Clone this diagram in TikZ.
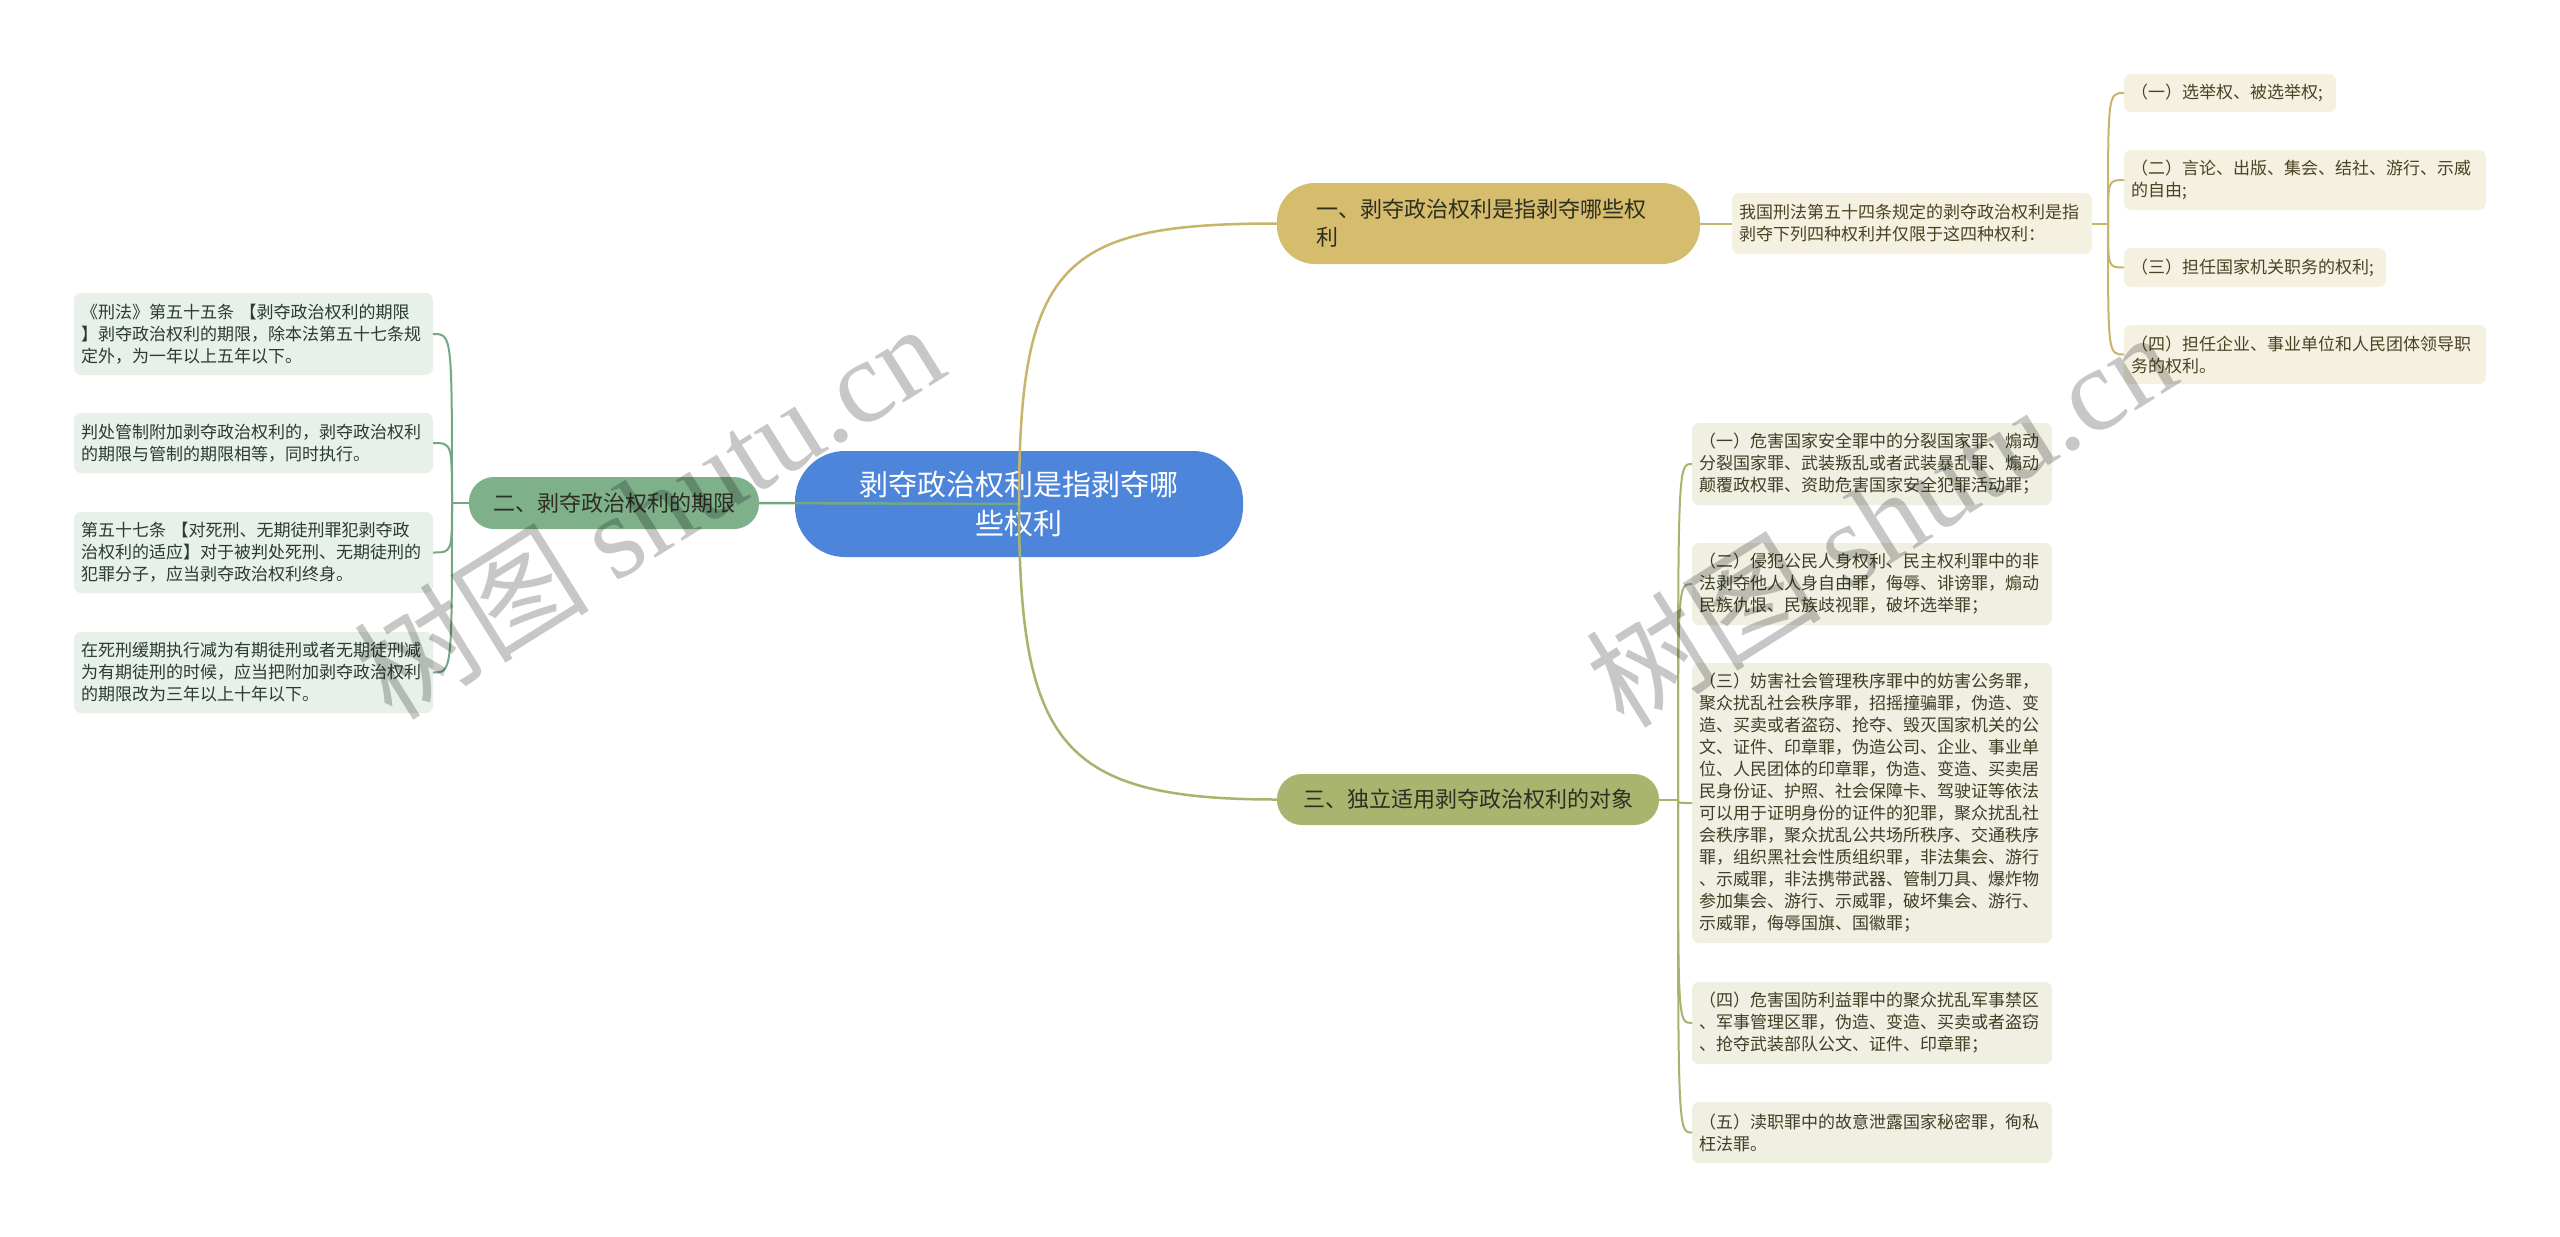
\documentclass[tikz,border=0pt]{standalone}
\usepackage{fontspec}
\setmainfont{Noto Sans CJK SC}
\newfontfamily\wmserif{Liberation Serif}
\definecolor{cRoot}{HTML}{4C85D9}
\definecolor{cGold}{HTML}{D5BD6D}
\definecolor{cGreen}{HTML}{7EB08A}
\definecolor{cOlive}{HTML}{A9B46F}
\definecolor{cLeafL}{HTML}{E7F0E9}
\definecolor{cLeafG}{HTML}{F5F1E1}
\definecolor{cLeafO}{HTML}{EFEFE2}
\definecolor{tLeafL}{HTML}{2C3B2F}
\definecolor{tLeafG}{HTML}{4B4224}
\definecolor{tLeafO}{HTML}{3D4024}
\definecolor{tMain}{HTML}{2E2E22}
\definecolor{lnGoldC}{HTML}{C9B46B}
\definecolor{lnGreenC}{HTML}{74A883}
\definecolor{lnOliveC}{HTML}{A8B36D}
\newcommand{\fsleaf}{\fontsize{17}{22}\selectfont}
\newcommand{\fsmainb}{\fontsize{22}{28}\selectfont}
\newcommand{\fsroot}{\fontsize{29}{39}\selectfont}
\begin{document}
\begin{tikzpicture}[x=1pt,y=-1pt,
  every node/.style={inner sep=0pt, outer sep=0pt},
  rootbox/.style={fill=cRoot, text=white, rounded corners=50pt, font=\fsroot, align=center,
    minimum width=448pt, minimum height=106pt, text width=420pt},
  mainbox/.style={font=\fsmainb, text=tMain},
  leafbase/.style={rounded corners=7pt, font=\fsleaf, align=left, inner xsep=7pt, inner ysep=0pt},
  leafL/.style={leafbase, fill=cLeafL, text=tLeafL},
  leafG/.style={leafbase, fill=cLeafG, text=tLeafG},
  leafO/.style={leafbase, fill=cLeafO, text=tLeafO},
  lnmain/.style={line width=2.5pt},
  lnbr/.style={line width=2pt},
  wm/.style={text=black, opacity=0.22, rotate=32, font=\fontsize{118}{118}\selectfont}
]
\useasboundingbox (0,0) rectangle (2560,1237);
\fill[white] (0,0) rectangle (2560,1237);

% root
\node[rootbox] (root) at (1019,504) {剥夺政治权利是指剥夺哪\\些权利};

% main branches
\node[mainbox, fill=cGold, rounded corners=38pt, minimum width=423pt, minimum height=81pt,
  text width=345pt, inner xsep=39pt, align=left] (b1) at (1488.5,223.5)
  {一、剥夺政治权利是指剥夺哪些权\\利};
\node[mainbox, fill=cGreen, rounded corners=25pt, minimum width=290pt, minimum height=52pt,
  align=center] (b2) at (614,503) {二、剥夺政治权利的期限};
\node[mainbox, fill=cOlive, rounded corners=25pt, minimum width=382pt, minimum height=51pt,
  align=center] (b3) at (1468,799.5) {三、独立适用剥夺政治权利的对象};

% branch 1 subnode
\node[leafG, minimum width=360pt, minimum height=61pt, text width=346pt] (b1c) at (1912,223.5)
  {我国刑法第五十四条规定的剥夺政治权利是指\\剥夺下列四种权利并仅限于这四种权利：};

% branch 1 leaves
\node[leafG, minimum width=212pt, minimum height=38pt, text width=198pt] (g1) at (2230,93)
  {（一）选举权、被选举权;};
\node[leafG, minimum width=362pt, minimum height=60pt, text width=348pt] (g2) at (2305,180)
  {（二）言论、出版、集会、结社、游行、示威\\的自由;};
\node[leafG, minimum width=262pt, minimum height=39pt, text width=248pt] (g3) at (2255,267.5)
  {（三）担任国家机关职务的权利;};
\node[leafG, minimum width=362pt, minimum height=59pt, text width=348pt] (g4) at (2305,354.5)
  {（四）担任企业、事业单位和人民团体领导职\\务的权利。};

% branch 2 leaves
\node[leafL, minimum width=359pt, minimum height=82pt, text width=345pt] (l1) at (253.5,334)
  {《刑法》第五十五条 【剥夺政治权利的期限\\】剥夺政治权利的期限，除本法第五十七条规\\定外，为一年以上五年以下。};
\node[leafL, minimum width=359pt, minimum height=60pt, text width=345pt] (l2) at (253.5,443)
  {判处管制附加剥夺政治权利的，剥夺政治权利\\的期限与管制的期限相等，同时执行。};
\node[leafL, minimum width=359pt, minimum height=81pt, text width=345pt] (l3) at (253.5,552.5)
  {第五十七条 【对死刑、无期徒刑罪犯剥夺政\\治权利的适应】对于被判处死刑、无期徒刑的\\犯罪分子，应当剥夺政治权利终身。};
\node[leafL, minimum width=359pt, minimum height=81pt, text width=345pt] (l4) at (253.5,672.5)
  {在死刑缓期执行减为有期徒刑或者无期徒刑减\\为有期徒刑的时候，应当把附加剥夺政治权利\\的期限改为三年以上十年以下。};

% branch 3 leaves
\node[leafO, minimum width=360pt, minimum height=82pt, text width=346pt] (o1) at (1872,464)
  {（一）危害国家安全罪中的分裂国家罪、煽动\\分裂国家罪、武装叛乱或者武装暴乱罪、煽动\\颠覆政权罪、资助危害国家安全犯罪活动罪；};
\node[leafO, minimum width=360pt, minimum height=82pt, text width=346pt] (o2) at (1872,584)
  {（二）侵犯公民人身权利、民主权利罪中的非\\法剥夺他人人身自由罪，侮辱、诽谤罪，煽动\\民族仇恨、民族歧视罪，破坏选举罪；};
\node[leafO, minimum width=360pt, minimum height=280pt, text width=346pt] (o3) at (1872,803)
  {（三）妨害社会管理秩序罪中的妨害公务罪，\\聚众扰乱社会秩序罪，招摇撞骗罪，伪造、变\\造、买卖或者盗窃、抢夺、毁灭国家机关的公\\文、证件、印章罪，伪造公司、企业、事业单\\位、人民团体的印章罪，伪造、变造、买卖居\\民身份证、护照、社会保障卡、驾驶证等依法\\可以用于证明身份的证件的犯罪，聚众扰乱社\\会秩序罪，聚众扰乱公共场所秩序、交通秩序\\罪，组织黑社会性质组织罪，非法集会、游行\\、示威罪，非法携带武器、管制刀具、爆炸物\\参加集会、游行、示威罪，破坏集会、游行、\\示威罪，侮辱国旗、国徽罪；};
\node[leafO, minimum width=360pt, minimum height=82pt, text width=346pt] (o4) at (1872,1023)
  {（四）危害国防利益罪中的聚众扰乱军事禁区\\、军事管理区罪，伪造、变造、买卖或者盗窃\\、抢夺武装部队公文、证件、印章罪；};
\node[leafO, minimum width=360pt, minimum height=61pt, text width=346pt] (o5) at (1872,1132.5)
  {（五）渎职罪中的故意泄露国家秘密罪，徇私\\枉法罪。};

% junctions
\coordinate (jL) at (452,503);
\coordinate (jG) at (2108,223.5);
\coordinate (jO) at (1678,799.5);

% main connectors (drawn over root as in reference)
\draw[lnmain, lnGreenC] (root.center) -- (b2.east);
\draw[lnmain, lnGoldC] (root.center) .. controls (1019,262) and (1062,223.5) .. (b1.west);
\draw[lnmain, lnOliveC] (root.center) .. controls (1019,746) and (1062,799.5) .. (b3.west);

% branch 1 connectors
\draw[lnbr, lnGoldC] (b1.east) -- (b1c.west);
\draw[lnbr, lnGoldC] (b1c.east) -- (jG);
\foreach \n/\yy in {g1/93, g2/180, g3/267.5, g4/354.5}
  \draw[lnbr, lnGoldC] (jG) .. controls (2108,\yy) .. (\n.west);

% branch 2 connectors
\draw[lnbr, lnGreenC] (b2.west) -- (jL);
\foreach \n/\yy in {l1/334, l2/443, l3/552.5, l4/672.5}
  \draw[lnbr, lnGreenC] (jL) .. controls (452,\yy) .. (\n.east);

% branch 3 connectors
\draw[lnbr, lnOliveC] (b3.east) -- (jO);
\foreach \n/\yy in {o1/464, o2/584, o3/803, o4/1023, o5/1132.5}
  \draw[lnbr, lnOliveC] (jO) .. controls (1678,\yy) .. (\n.west);

% watermarks
\node[wm] (wm1) at (648,510) {树图 {\wmserif shutu.cn}};
\node[wm] (wm2) at (1880,518) {树图 {\wmserif shutu.cn}};
\end{tikzpicture}
\end{document}
